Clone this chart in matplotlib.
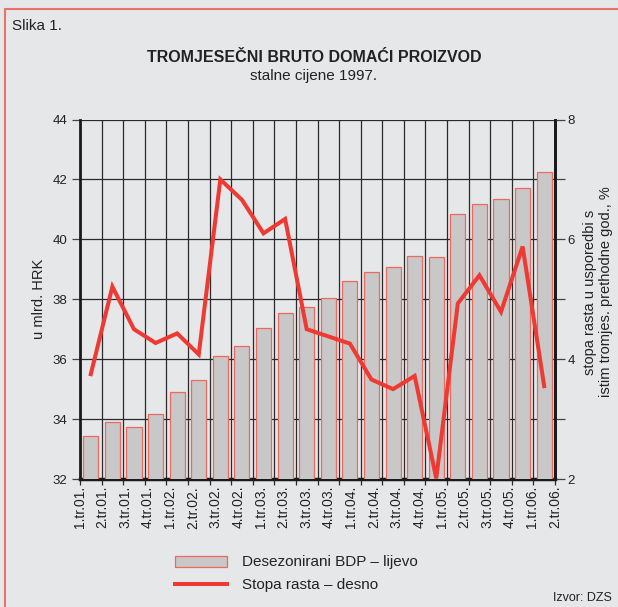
import matplotlib
matplotlib.use('Agg')
import matplotlib.pyplot as plt
import numpy as np
from matplotlib.patches import Rectangle
from matplotlib.lines import Line2D
import matplotlib.transforms as mtransforms

plt.rcParams['font.family'] = ['Liberation Sans', 'DejaVu Sans']

quarters = ['1.tr.01.', '2.tr.01.', '3.tr.01.', '4.tr.01.',
            '1.tr.02.', '2.tr.02.', '3.tr.02.', '4.tr.02.',
            '1.tr.03.', '2.tr.03.', '3.tr.03.', '4.tr.03.',
            '1.tr.04.', '2.tr.04.', '3.tr.04.', '4.tr.04.',
            '1.tr.05.', '2.tr.05.', '3.tr.05.', '4.tr.05.',
            '1.tr.06.', '2.tr.06.']
gdp = [33.43, 33.90, 33.75, 34.17, 34.90, 35.29, 36.12, 36.43, 37.04, 37.53, 37.74,
       38.04, 38.62, 38.91, 39.08, 39.46, 39.40, 40.83, 41.17, 41.35, 41.73, 42.26]
growth = [3.75, 5.21, 4.50, 4.27, 4.43, 4.08, 7.00, 6.66, 6.10, 6.34, 4.50,
          4.38, 4.26, 3.66, 3.50, 3.72, 2.01, 4.93, 5.40, 4.79, 5.88, 3.55]
left_ticks = [32, 34, 36, 38, 40, 42, 44]
right_ticks = [2, 3, 4, 5, 6, 7, 8]
right_labels = ['2', '', '4', '', '6', '', '8']

W, H = 618, 607
bg = '#e6e7e8'
red = '#ee3a32'
fig = plt.figure(figsize=(W / 100, H / 100), dpi=100)
fig.patch.set_facecolor(bg)

ax = fig.add_axes([80 / W, 1 - 479 / H, (555 - 80) / W, (479 - 119.5) / H])
ax.set_facecolor(bg)
x = np.arange(len(quarters))
ax.bar(x, gdp, width=0.7, color='#c8c8c9', edgecolor='#ef6860', linewidth=0.9, zorder=3)
ax.set_xlim(-0.5, len(x) - 0.5)
ax.set_ylim(32, 44)
ax.set_yticks(left_ticks)
ax.set_yticklabels([str(t) for t in left_ticks])
ax.set_xticks(np.arange(-0.5, len(x), 1))
ax.set_xticklabels([])
ax.grid(True, color='#2a2a2a', lw=0.9)
ax.set_axisbelow(True)
ax.tick_params(axis='x', length=4, width=0.9, color='#2a2a2a', direction='out')
ax.tick_params(axis='y', length=6, width=0.9, color='#444444', labelsize=9.5,
               pad=3, labelcolor='#222222')
for s in ['left', 'right']:
    ax.spines[s].set_linewidth(2)
    ax.spines[s].set_color('#1a1a1a')
ax.spines['bottom'].set_linewidth(2.5)
ax.spines['bottom'].set_color('#1a1a1a')
ax.spines['top'].set_visible(False)
ax.set_ylabel('u mlrd. HRK', fontsize=10.5, color='#222222')
ax.yaxis.set_label_coords((46 - 80) / 475, 0.5)

ax2 = ax.twinx()
ax2.plot(x, growth, color=red, lw=2.9, solid_joinstyle='miter', zorder=5)
ax2.set_ylim(2, 8)
ax2.set_yticks(right_ticks)
ax2.set_yticklabels(right_labels)
ax2.tick_params(axis='y', length=7, width=0.9, color='#444444', labelsize=9.5,
                pad=2, labelcolor='#222222')
for s in ['left', 'top', 'bottom']:
    ax2.spines[s].set_visible(False)
ax2.spines['right'].set_linewidth(2)
ax2.spines['right'].set_color('#1a1a1a')

# category labels spread evenly across the axis width
trans = mtransforms.blended_transform_factory(ax.transData, ax.transAxes) + \
    mtransforms.ScaledTranslation(0, -5 / 72, fig.dpi_scale_trans)
n = len(quarters)
for i, q in enumerate(quarters):
    pos = -0.5 + i * n / (n - 1)
    ax.text(pos, 0, q, transform=trans, rotation=90, ha='center', va='top',
            fontsize=10, color='#222222')

# right axis label
fig.text(598 / W, 1 - 292 / H, 'stopa rasta u usporedbi s\nistim tromjes. prethodne god., %',
         rotation=90, ha='center', va='center', fontsize=10.5, linespacing=1.1,
         color='#222222', multialignment='center')

# texts
fig.text(12 / W, 1 - 26 / H, 'Slika 1.', fontsize=11, ha='left', va='center', color='#222222')
fig.text(314 / W, 1 - 58 / H, 'TROMJESEČNI BRUTO DOMAĆI PROIZVOD', fontsize=11.5,
         fontweight='bold', ha='center', va='center', color='#222222')
fig.text(314 / W, 1 - 76 / H, 'stalne cijene 1997.', fontsize=11, ha='center',
         va='center', color='#222222')
fig.text(612 / W, 1 - 598 / H, 'Izvor: DZS', fontsize=9, ha='right', va='center',
         color='#222222')

# legend
fig.add_artist(Rectangle((175 / W, 1 - 567 / H), 52 / W, 11 / H, transform=fig.transFigure,
                         facecolor='#c8c8c9', edgecolor='#ef6860', lw=0.9))
fig.add_artist(Line2D([175 / W, 227 / W], [1 - 584 / H, 1 - 584 / H],
                      transform=fig.transFigure, color=red, lw=2.9))
fig.text(242 / W, 1 - 562 / H, 'Desezonirani BDP – lijevo', fontsize=11, ha='left',
         va='center', color='#222222')
fig.text(242 / W, 1 - 585 / H, 'Stopa rasta – desno', fontsize=11, ha='left',
         va='center', color='#222222')

# outer red frame
fig.add_artist(Rectangle((5 / W, -0.1), 1.2, 1 - 9 / H + 0.1, transform=fig.transFigure,
                         fill=False, edgecolor='#e8736d', lw=1.5))

fig.savefig('out.png', dpi=100, facecolor=bg)
